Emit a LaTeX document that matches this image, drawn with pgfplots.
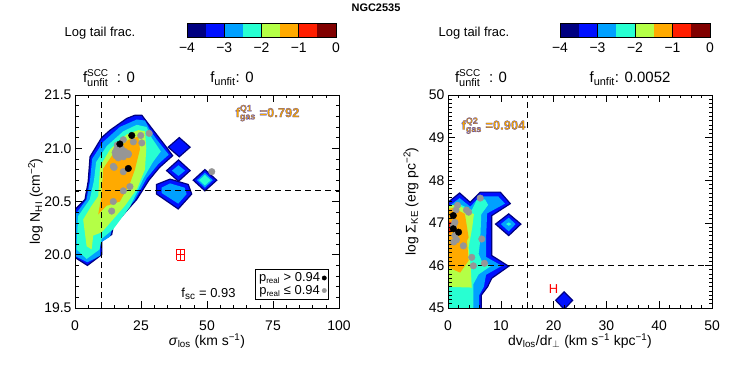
\documentclass[border=0pt]{standalone}
\usepackage{fontspec}
\setmainfont{Liberation Sans}
\usepackage{pgfplots}
\pgfplotsset{compat=1.18}

\definecolor{cNavy}{RGB}{0,0,128}
\definecolor{cBlue}{RGB}{0,16,255}
\definecolor{cLBlue}{RGB}{0,160,255}
\definecolor{cCyan}{RGB}{40,255,210}
\definecolor{cYG}{RGB}{180,255,70}
\definecolor{cOrange}{RGB}{255,170,0}
\definecolor{cRed}{RGB}{255,30,0}
\definecolor{cDRed}{RGB}{128,0,0}
\definecolor{cGray}{RGB}{150,150,150}
\definecolor{cGold}{RGB}{245,165,0}

\newcommand{\fsz}[1]{\fontsize{#1}{#1}\selectfont}
% gold text with a thin blue outline (fill+stroke render mode)
\newcommand{\outl}[1]{\special{pdf:literal direct 0.2 0.2 0.8 RG 0.18 w 2 Tr}#1\special{pdf:literal direct 0 Tr}}
\newcommand{\fgas}[2]{\outl{f$^{\mbox{\fsz{9}Q#1}}_{\mbox{\fsz{9}gas}}$ =#2}}
\newcommand{\fscc}{f$^{\mbox{\fsz{10}SCC}}_{\mbox{\fsz{11}unfit}}$\ \ : 0}

\tikzset{
  goldtxt/.style={font=\bfseries\fsz{13}, anchor=west, text=cGold},
}
\pgfplotsset{
  panel/.style={scale only axis, width=264bp, height=213bp, anchor=south west,
    axis on top, tick align=inside, major tick length=7bp, minor tick length=3.5bp,
    axis line style={line width=0.8pt}, tick style={line width=0.6pt, black},
    ticklabel style={font=\fsz{14}}, xticklabel style={yshift=-9bp},
    label style={font=\fsz{14}},
    /pgf/number format/assume math mode=true},
  cbar/.style={scale only axis, height=14bp, anchor=south west,
    xmin=-4, xmax=0, ymin=0, ymax=1, ytick=\empty, xtick={-4,-3,-2,-1,0},
    xticklabels={−4,−3,−2,−1,0}, major tick length=0pt, axis on top,
    axis line style={line width=0.8pt}, ticklabel style={font=\fsz{14}},
    xticklabel style={yshift=-2bp}, /pgf/number format/assume math mode=true},
  lvl/.style={forget plot, fill=#1, draw=none},
  edge/.style={forget plot, fill=cBlue, draw=cNavy, line width=1.2pt},
}

\begin{document}
\begin{tikzpicture}[x=1bp,y=1bp]
\path[use as bounding box] (0,0) rectangle (747,374);

\node[font=\bfseries\fsz{11}] at (376,366) {NGC2535};

% ---- colour bars
\node[font=\fsz{13}] at (100,341) {Log tail frac.};
\node[font=\fsz{13}] at (474,341) {Log tail frac.};
\foreach \cx/\cw in {187/149, 560/150}{
\begin{axis}[cbar, at={(\cx bp,337bp)}, width=\cw bp]
  \addplot[lvl=cNavy]   coordinates {(-4,0)(-3.5,0)(-3.5,1)(-4,1)} --cycle;
  \addplot[lvl=cBlue]   coordinates {(-3.5,0)(-3,0)(-3,1)(-3.5,1)} --cycle;
  \addplot[lvl=cLBlue]  coordinates {(-3,0)(-2.5,0)(-2.5,1)(-3,1)} --cycle;
  \addplot[lvl=cCyan]   coordinates {(-2.5,0)(-2,0)(-2,1)(-2.5,1)} --cycle;
  \addplot[lvl=cYG]     coordinates {(-2,0)(-1.5,0)(-1.5,1)(-2,1)} --cycle;
  \addplot[lvl=cOrange] coordinates {(-1.5,0)(-1,0)(-1,1)(-1.5,1)} --cycle;
  \addplot[lvl=cRed]    coordinates {(-1,0)(-0.5,0)(-0.5,1)(-1,1)} --cycle;
  \addplot[lvl=cDRed]   coordinates {(-0.5,0)(0,0)(0,1)(-0.5,1)} --cycle;
  \addplot[black, line width=0.6pt] coordinates {(-3,0)(-3,1)};
  \addplot[black, line width=0.6pt] coordinates {(-2,0)(-2,1)};
  \addplot[black, line width=0.6pt] coordinates {(-1,0)(-1,1)};
\end{axis}
}

% ---- header numbers
\node[font=\fsz{15}, anchor=base] at (109,292) {\fscc};
\node[font=\fsz{15}, anchor=base] at (232,292) {f\textsubscript{\fsz{11}unfit}: 0};
\node[font=\fsz{15}, anchor=base] at (481,292) {\fscc};
\node[font=\fsz{15}, anchor=base] at (630,292) {f\textsubscript{\fsz{11}unfit}: 0.0052};

% ---- left panel
\begin{axis}[panel, at={(75bp,66bp)},
  xmin=0, xmax=100, ymin=19.5, ymax=21.5,
  xtick={0,25,50,75,100}, minor x tick num=4,
  ytick={19.5,20,20.5,21,21.5}, yticklabels={19.5,20.0,20.5,21.0,21.5}, minor y tick num=4,
  xlabel={\textit{σ}\textsubscript{los} (km s\textsuperscript{−1})},
  ylabel={log N\textsubscript{HI} (cm\textsuperscript{−2})},
  xlabel style={at={(axis description cs:0.5,-0.155)}, anchor=center},
  ylabel style={at={(axis description cs:-0.15,0.5)}, anchor=center},
  legend plot pos=right, reverse legend,
  legend style={at={(0.959,0.04)}, anchor=south east, font=\fsz{13},
    draw=black, inner sep=1.5pt, row sep=-2pt, fill=white},
  legend image post style={mark size=2.2bp},
  unbounded coords=jump,
]
  % main contour
  \addplot[edge] coordinates {(-1,19.99)(-1,20.40)(3.8,20.52)(5,20.69)(5.7,20.92)(10.1,21.10)(13.3,21.17)(19.6,21.28)(22.7,21.31)(25.3,21.31)(29,21.19)(34,21.03)(37,20.93)(32,20.82)(28,20.70)(23.4,20.52)(14.5,20.27)(13.9,20.19)(10.1,20.13)(10.1,20.0)(4.7,19.90)} --cycle;
  \addplot[lvl=cLBlue] coordinates {(-1,20.0)(-1,20.38)(0.8,20.40)(4.4,20.52)(5.7,20.70)(6.5,20.90)(10.7,21.06)(17,21.20)(23.4,21.27)(26.5,21.26)(28.4,21.17)(31,21.08)(35.5,20.94)(31.5,20.85)(27.2,20.72)(22.5,20.51)(14.0,20.25)(13.3,20.17)(9.5,20.11)(9.5,19.99)(4.7,19.93)} --cycle;
  \addplot[lvl=cCyan] coordinates {(0.6,20.05)(1.1,20.36)(5.6,20.52)(7.2,20.70)(8.0,20.87)(12,21.02)(18.3,21.16)(23.4,21.22)(27.1,21.20)(29,21.10)(32.5,20.97)(29.5,20.87)(26,20.72)(20.8,20.45)(14.5,20.24)(10.1,20.15)(9.3,20.05)(4.4,19.96)} --cycle;
  \addplot[lvl=cYG] coordinates {(3.1,20.33)(4.4,20.08)(6.3,20.05)(6.9,20.18)(10.1,20.21)(13.3,20.30)(18.9,20.46)(23.5,20.62)(26.5,20.80)(27,21.0)(26.5,21.16)(24,21.17)(19.6,21.13)(13.3,20.99)(9.5,20.83)(8.8,20.55)(6,20.45)} --cycle;
  \addplot[lvl=cOrange] coordinates {(8.8,20.38)(12,20.46)(17,20.50)(20.8,20.67)(22.7,20.80)(24.6,20.99)(24,21.11)(20.2,21.08)(14.5,20.95)(10.7,20.81)(10.0,20.55)} --cycle;
  % islands
  \addplot[edge] coordinates {(30.9,20.66)(36,20.71)(42.9,20.66)(44.2,20.57)(39.1,20.43)(30.9,20.57)} --cycle;
  \addplot[lvl=cLBlue] coordinates {(32.8,20.63)(36,20.67)(41.5,20.63)(42.3,20.57)(39.1,20.48)(32.8,20.58)} --cycle;
  \addplot[edge] coordinates {(35.3,21.01)(39.5,21.10)(43.6,21.01)(39.5,20.92)} --cycle;
  \addplot[edge] coordinates {(34.7,20.79)(39.2,20.89)(43.6,20.79)(39.2,20.69)} --cycle;
  \addplot[lvl=cLBlue] coordinates {(36.7,20.79)(39.2,20.84)(41.7,20.79)(39.2,20.74)} --cycle;
  \addplot[edge] coordinates {(44.8,20.70)(49.2,20.80)(53.7,20.70)(49.2,20.60)} --cycle;
  \addplot[lvl=cLBlue] coordinates {(46.2,20.70)(49.2,20.77)(52.2,20.70)(49.2,20.63)} --cycle;
  \addplot[lvl=cCyan] coordinates {(47,20.70)(49.2,20.75)(51.4,20.70)(49.2,20.65)} --cycle;
  % thresholds
  \addplot[forget plot, black, dashed, dash pattern=on 6bp off 4bp, line width=0.8pt] coordinates {(10,19.5)(10,21.5)};
  \addplot[forget plot, black, dashed, dash pattern=on 6bp off 4bp, line width=0.8pt] coordinates {(0,20.6)(100,20.6)};
  % points
  \addplot[only marks, mark=*, mark size=3.3bp, cGray, mark options={draw=cGray, fill=cGray}] coordinates {
    (18.3,21.08)(24.9,21.12)(28.1,21.14)(25.3,21.05)(22.1,21.06)(20.2,20.94)(14.5,20.83)(18.3,20.78)
    (20.8,20.64)(18.3,20.60)(14.5,20.50)(13.9,20.41)(15.8,20.99)(17,20.97)(15.2,20.96)(18.3,20.92)
    (16.4,20.91)(17.5,21.00)(16,21.03)(18.8,20.97)(15.5,20.93)(17.2,20.93)(14.8,20.82)(20.2,20.95)(51.8,20.78)};
  \addlegendentry{p\textsubscript{\fsz{8}real} ≤ 0.94}
  \addplot[only marks, mark=*, mark size=3.3bp, black] coordinates {(21.5,21.12)(17,21.04)(20.2,20.81)};
  \addlegendentry{p\textsubscript{\fsz{8}real} > 0.94}
  % typical error bar (boxed cross)
  \addplot[forget plot, red, line width=0.6pt] coordinates {
    (38.5,20)(41.5,20)(nan,nan)(40,19.949)(40,20.051)(nan,nan)
    (38.5,19.949)(38.5,20.051)(nan,nan)(41.5,19.949)(41.5,20.051)(nan,nan)
    (38.5,19.949)(41.5,19.949)(nan,nan)(38.5,20.051)(41.5,20.051)};
  \node[font=\fsz{13}, anchor=west] at (axis cs:39,19.63) {f\textsubscript{\fsz{10}sc} = 0.93};
  \node[goldtxt] at (axis cs:59.5,21.33) {\fgas{1}{0.792}};
\end{axis}

% ---- right panel
\begin{axis}[panel, at={(448bp,66bp)},
  xmin=0, xmax=50, ymin=45, ymax=50,
  xtick={0,10,20,30,40,50}, minor x tick num=4,
  ytick={45,46,47,48,49,50}, minor y tick num=9,
  xlabel={dv\textsubscript{los}/dr$_\perp$ (km s\textsuperscript{−1} kpc\textsuperscript{−1})},
  ylabel={log Σ\textsubscript{KE} (erg pc\textsuperscript{−2})},
  xlabel style={at={(axis description cs:0.5,-0.155)}, anchor=center},
  ylabel style={at={(axis description cs:-0.14,0.5)}, anchor=center},
]
  \addplot[edge] coordinates {(-1,44.8)(-1,47.48)(0,47.48)(2.2,47.70)(4.2,47.48)(6.1,47.72)(9.9,47.72)(11.8,47.45)(8.3,47.17)(8.3,46.23)(11.5,45.98)(8.3,45.70)(7.5,45.5)(6.3,45.3)(6.3,44.8)} --cycle;
  \addplot[lvl=cLBlue] coordinates {(-1,44.8)(-1,47.40)(0.3,47.40)(2.2,47.58)(4.2,47.38)(6.1,47.62)(9.5,47.62)(10.8,47.45)(7.4,47.22)(7.2,46.6)(7.2,46.2)(10.2,45.99)(7.2,45.78)(6.8,45.5)(5.9,45.3)(5.9,44.8)} --cycle;
  \addplot[lvl=cCyan] coordinates {(-1,44.8)(-1,47.32)(2,47.45)(4.5,47.30)(5.5,47.55)(7,47.55)(7.6,47.42)(6.3,47.2)(6.1,46.58)(5.8,46.27)(6.4,46.1)(8.2,45.99)(5.8,45.79)(4.8,45.56)(4.8,44.8)} --cycle;
  \addplot[lvl=cYG] coordinates {(-1,45.50)(4.5,45.48)(4.3,45.95)(3.9,46.42)(4.6,46.9)(4.9,47.2)(3.5,47.3)(2.2,47.40)(0.5,47.42)(-1,47.40)} --cycle;
  \addplot[lvl=cOrange] coordinates {(-1,46.05)(0.7,45.92)(2.3,45.83)(3.9,46.11)(3.6,46.58)(3.9,46.66)(3.2,47.21)(1,47.35)(-1,47.3)} --cycle;
  \addplot[lvl=cRed] coordinates {(-1,46.72)(0.6,46.78)(0.8,47.0)(-1,47.1)} --cycle;
  \addplot[edge] coordinates {(9.0,46.97)(11.5,47.21)(13.8,46.97)(11.5,46.70)} --cycle;
  \addplot[lvl=cLBlue] coordinates {(10.0,46.97)(11.5,47.12)(12.8,46.97)(11.5,46.80)} --cycle;
  \addplot[lvl=cCyan] coordinates {(11.0,46.97)(11.5,47.01)(12.0,46.97)(11.5,46.93)} --cycle;
  \addplot[edge] coordinates {(20.4,45.18)(22,45.38)(23.6,45.18)(22,44.97)} --cycle;
  \addplot[black, dashed, dash pattern=on 6bp off 4bp, line width=0.8pt] coordinates {(15,45)(15,50)};
  \addplot[black, dashed, dash pattern=on 6bp off 4bp, line width=0.8pt] coordinates {(0,46)(50,46)};
  \addplot[only marks, mark=*, mark size=3.3bp, cGray] coordinates {
    (1.8,47.41)(3.9,47.25)(3.5,47.30)(6.1,47.58)(1.3,47.01)(1.0,46.92)(1.3,46.70)(1.6,46.60)
    (1.1,46.55)(2.9,46.46)(6.4,46.62)(4.5,46.19)(4.8,45.99)(6.9,46.05)(1.5,47.30)};
  \addplot[only marks, mark=*, mark size=3.3bp, black] coordinates {(1.0,47.17)(1.0,46.86)(2.0,46.78)};
  \node[red, font=\fsz{13}] at (axis cs:20,45.45) {H};
  \node[goldtxt] at (axis cs:1.9,49.28) {\fgas{2}{0.904}};
\end{axis}
\end{tikzpicture}
\end{document}
